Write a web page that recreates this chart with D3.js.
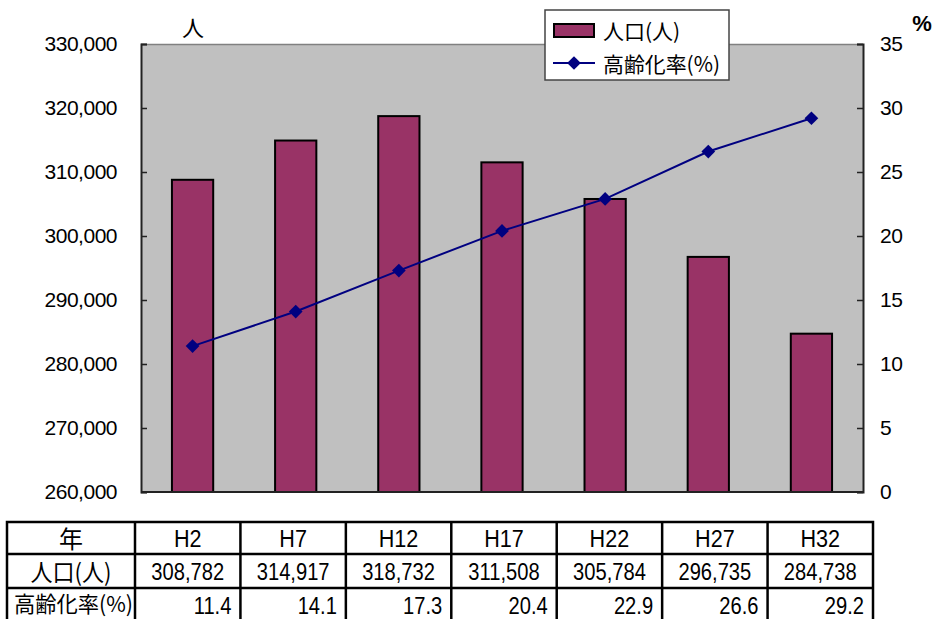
<!DOCTYPE html>
<html>
<head>
<meta charset="utf-8">
<script src="https://cdn.jsdelivr.net/npm/d3@7/dist/d3.min.js"></script>
<style>
  html, body { margin: 0; padding: 0; background: #fff; }
  svg { display: block; }
</style>
</head>
<body>
<svg id="chart" width="937" height="619"></svg>
<script>
// Population and aging rate by year (Heisei era)
const years = ["H2", "H7", "H12", "H17", "H22", "H27", "H32"];
const population = [308782, 314917, 318732, 311508, 305784, 296735, 284738];
const agingRate = [11.4, 14.1, 17.3, 20.4, 22.9, 26.6, 29.2];
const popTicks = [260000, 270000, 280000, 290000, 300000, 310000, 320000, 330000];
const rateTicks = [0, 5, 10, 15, 20, 25, 30, 35];
const rowLabels = ["年", "人口(人)", "高齢化率(%)"];

const svg = d3.select("#chart");
const plot = { left: 141, right: 863, top: 44, bottom: 492 };

const latin = "'Liberation Sans', Arial, sans-serif";
const cjk = "'Noto Sans CJK JP', 'Noto Sans CJK SC', sans-serif";

const x = d3.scaleBand().domain(years).range([plot.left, plot.right]).paddingInner(0.6).paddingOuter(0.3);
const xc = d3.scalePoint().domain(years).range([plot.left, plot.right]).padding(0.5);
const yPop = d3.scaleLinear().domain([260000, 330000]).range([plot.bottom, plot.top]);
const yRate = d3.scaleLinear().domain([0, 35]).range([plot.bottom, plot.top]);

// plot area
svg.append("rect")
  .attr("x", plot.left).attr("y", plot.top)
  .attr("width", plot.right - plot.left).attr("height", plot.bottom - plot.top)
  .attr("fill", "#c0c0c0");
svg.append("line")
  .attr("x1", plot.left).attr("x2", plot.right)
  .attr("y1", plot.top + 0.5).attr("y2", plot.top + 0.5)
  .attr("stroke", "#808080").attr("stroke-width", 1.5);

// bars
svg.append("g").selectAll("rect").data(years).join("rect")
  .attr("x", d => x(d))
  .attr("y", (d, i) => yPop(population[i]))
  .attr("width", x.bandwidth())
  .attr("height", (d, i) => plot.bottom - yPop(population[i]))
  .attr("fill", "#993366")
  .attr("stroke", "#000").attr("stroke-width", 2);

// left axis
const leftAxis = svg.append("g")
  .attr("transform", `translate(${plot.left},0)`)
  .call(d3.axisLeft(yPop).tickValues(popTicks).tickSize(-6).tickPadding(24)
    .tickFormat(d3.format(",")));
leftAxis.select(".domain").attr("stroke", "#222").attr("stroke-width", 2);
leftAxis.selectAll(".tick line").attr("stroke", "#222").attr("stroke-width", 1.5);
leftAxis.selectAll("text").attr("font-family", latin).attr("font-size", 21)
  .attr("fill", "#000").attr("letter-spacing", -0.5);

// right axis
const rightAxis = svg.append("g")
  .attr("transform", `translate(${plot.right},0)`)
  .call(d3.axisRight(yRate).tickValues(rateTicks).tickSize(-6).tickPadding(17));
rightAxis.select(".domain").attr("stroke", "#222").attr("stroke-width", 2);
rightAxis.selectAll(".tick line").attr("stroke", "#222").attr("stroke-width", 1.5);
rightAxis.selectAll("text").attr("font-family", latin).attr("font-size", 21)
  .attr("fill", "#000").attr("letter-spacing", -0.5);

// bottom axis line
svg.append("line")
  .attr("x1", plot.left).attr("x2", plot.right)
  .attr("y1", plot.bottom).attr("y2", plot.bottom)
  .attr("stroke", "#222").attr("stroke-width", 2);

// unit labels
svg.append("text").attr("x", 193).attr("y", 36).attr("text-anchor", "middle")
  .attr("font-family", cjk).attr("font-size", 22).text("人");
svg.append("text").attr("x", 922).attr("y", 31).attr("text-anchor", "middle")
  .attr("font-family", latin).attr("font-weight", "bold").attr("font-size", 22).text("%");

// aging rate line
const line = d3.line().x((d, i) => xc(years[i])).y(d => yRate(d));
svg.append("path").datum(agingRate)
  .attr("d", line).attr("fill", "none")
  .attr("stroke", "#000080").attr("stroke-width", 2);
const diamond = d3.symbol().type(d3.symbolDiamond2).size(120);
svg.append("g").selectAll("path").data(agingRate).join("path")
  .attr("d", diamond)
  .attr("transform", (d, i) => `translate(${xc(years[i])},${yRate(d)})`)
  .attr("fill", "#000080");

// legend
const lg = svg.append("g");
lg.append("rect").attr("x", 545).attr("y", 10).attr("width", 184).attr("height", 70)
  .attr("fill", "#fff").attr("stroke", "#444").attr("stroke-width", 1.5);
lg.append("rect").attr("x", 554).attr("y", 24).attr("width", 40).attr("height", 13)
  .attr("fill", "#993366").attr("stroke", "#000").attr("stroke-width", 2);
lg.append("text").attr("x", 603).attr("y", 39).attr("font-family", cjk).attr("font-size", 21)
  .text("人口(人)");
lg.append("line").attr("x1", 553).attr("x2", 595).attr("y1", 63).attr("y2", 63)
  .attr("stroke", "#000080").attr("stroke-width", 2);
lg.append("path").attr("d", diamond).attr("transform", "translate(574,63)").attr("fill", "#000080");
lg.append("text").attr("x", 603).attr("y", 72).attr("font-family", cjk).attr("font-size", 21)
  .attr("textLength", 117).attr("lengthAdjust", "spacingAndGlyphs")
  .text("高齢化率(%)");

// data table
const tbl = { left: 7, first: 135, right: 873, rows: [522, 554, 588, 621] };
const cx = d3.scaleBand().domain(years).range([tbl.first, tbl.right]);
const tg = svg.append("g");
tg.append("rect").attr("x", tbl.left).attr("y", tbl.rows[0])
  .attr("width", tbl.right - tbl.left).attr("height", tbl.rows[3] - tbl.rows[0])
  .attr("fill", "#fff").attr("stroke", "#000").attr("stroke-width", 2.5);
tg.selectAll(".hl").data(tbl.rows.slice(1, 3)).join("line")
  .attr("x1", tbl.left).attr("x2", tbl.right).attr("y1", d => d).attr("y2", d => d)
  .attr("stroke", "#000").attr("stroke-width", 2.5);
tg.selectAll(".vl").data(years).join("line")
  .attr("x1", d => cx(d)).attr("x2", d => cx(d))
  .attr("y1", tbl.rows[0]).attr("y2", tbl.rows[3])
  .attr("stroke", "#000").attr("stroke-width", 2.5);

// row headers
tg.append("text").attr("x", (tbl.left + tbl.first) / 2).attr("y", 548).attr("text-anchor", "middle")
  .attr("font-family", cjk).attr("font-size", 24).text(rowLabels[0]);
tg.append("text").attr("x", (tbl.left + tbl.first) / 2).attr("y", 581).attr("text-anchor", "middle")
  .attr("font-family", cjk).attr("font-size", 24)
  .attr("textLength", 81).attr("lengthAdjust", "spacingAndGlyphs").text(rowLabels[1]);
tg.append("text").attr("x", 14).attr("y", 612)
  .attr("font-family", cjk).attr("font-size", 22)
  .attr("textLength", 119).attr("lengthAdjust", "spacingAndGlyphs").text(rowLabels[2]);

// cells (figures drawn slightly condensed)
function cell(sel, xf, y, anchor, size, squeeze, fmt) {
  sel.append("text")
    .attr("transform", (d, i) => `translate(${xf(d, i)},${y}) scale(${squeeze},1)`)
    .attr("text-anchor", anchor)
    .attr("font-family", latin).attr("font-size", size)
    .text(fmt);
}
tg.append("g").selectAll("g").data(years).join("g")
  .call(sel => cell(sel, d => cx(d) + cx.bandwidth() / 2, 547, "middle", 24, 0.9, d => d));
tg.append("g").selectAll("g").data(population).join("g")
  .call(sel => cell(sel, (d, i) => cx(years[i]) + cx.bandwidth() / 2, 580, "middle", 24, 0.84, d => d3.format(",")(d)));
tg.append("g").selectAll("g").data(agingRate).join("g")
  .call(sel => cell(sel, (d, i) => cx(years[i]) + cx.bandwidth() - 9, 614, "end", 24, 0.84, d => d3.format(".1f")(d)));
</script>
</body>
</html>
